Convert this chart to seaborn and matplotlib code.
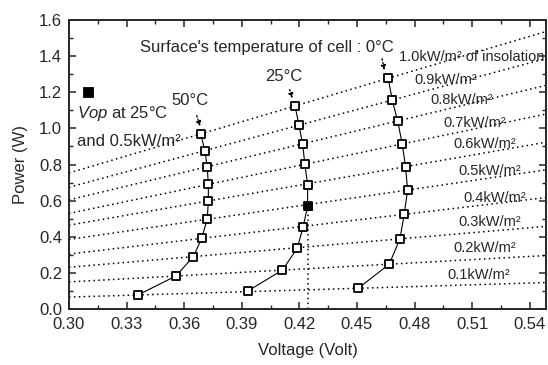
import numpy as np
import pandas as pd
import matplotlib
matplotlib.use('Agg')
import matplotlib.pyplot as plt
import seaborn as sns
from matplotlib.ticker import MultipleLocator, FormatStrFormatter

sns.set_style('ticks')
plt.rcParams['font.family'] = ['Liberation Sans', 'DejaVu Sans']
plt.rcParams['mathtext.fontset'] = 'custom'
plt.rcParams['mathtext.rm'] = 'Liberation Sans'
plt.rcParams['mathtext.it'] = 'Liberation Sans:italic'

# operating points for each cell temperature (bottom = 0.1 kW/m2 ... top = 1.0 kW/m2)
v_50 = [0.336, 0.3557, 0.3648, 0.3691, 0.3720, 0.3726, 0.3726, 0.3720, 0.3708, 0.3686]
p_50 = [0.078, 0.183, 0.290, 0.391, 0.497, 0.598, 0.690, 0.788, 0.877, 0.969]
v_25 = [0.3934, 0.4112, 0.4189, 0.4220, 0.4243, 0.4243, 0.4229, 0.4217, 0.4198, 0.4177]
p_25 = [0.101, 0.216, 0.336, 0.456, 0.570, 0.687, 0.801, 0.912, 1.019, 1.126]
v_0 = [0.4507, 0.4668, 0.4724, 0.4746, 0.4764, 0.4753, 0.4736, 0.4712, 0.4684, 0.4663]
p_0 = [0.115, 0.248, 0.388, 0.524, 0.659, 0.788, 0.914, 1.041, 1.157, 1.277]

# constant insolation lines, power at the two ends of the voltage range
iso_levels = ['0.1', '0.2', '0.3', '0.4', '0.5', '0.6', '0.7', '0.8', '0.9', '1.0']
iso_v = [0.30, 0.55]
iso_p_left = [0.066, 0.150, 0.231, 0.304, 0.385, 0.464, 0.529, 0.604, 0.674, 0.753]
iso_p_right = [0.147, 0.297, 0.459, 0.619, 0.773, 0.926, 1.083, 1.242, 1.391, 1.541]

# Vop at 25 C and 0.5 kW/m2
vop_v = 0.4243
vop_p = 0.570
legend_v = 0.3099
legend_p = 1.20

curves = pd.concat([
    pd.DataFrame({'v': v_50, 'p': p_50, 'temp': '50'}),
    pd.DataFrame({'v': v_25, 'p': p_25, 'temp': '25'}),
    pd.DataFrame({'v': v_0, 'p': p_0, 'temp': '0'}),
], ignore_index=True)

iso_rows = []
for lev, pl, pr in zip(iso_levels, iso_p_left, iso_p_right):
    iso_rows.append({'v': iso_v[0], 'p': pl, 'level': lev})
    iso_rows.append({'v': iso_v[1], 'p': pr, 'level': lev})
iso = pd.DataFrame(iso_rows)

fig = plt.figure(figsize=(5.48, 3.65), dpi=100)
ax = fig.add_axes([0.1259, 0.1534, 0.8705, 0.7918])

sns.lineplot(data=iso, x='v', y='p', units='level', estimator=None, color='k',
             linestyle=(0, (1, 2.2)), linewidth=1.1, ax=ax, legend=False)
sns.lineplot(data=curves, x='v', y='p', units='temp', estimator=None, sort=False,
             color='k', linewidth=0.8, ax=ax, legend=False)
ax.plot([vop_v, vop_v], [0, vop_p], color='k', linestyle=(0, (1, 2.2)), linewidth=1.1)
sns.scatterplot(data=curves, x='v', y='p', marker='s', s=32, facecolor='white',
                edgecolor='k', linewidth=1.3, ax=ax, zorder=5, legend=False)
sns.scatterplot(x=[vop_v], y=[vop_p], marker='s', s=40, color='k', edgecolor='k',
                ax=ax, zorder=6, legend=False)
sns.scatterplot(x=[legend_v], y=[legend_p], marker='s', s=55, color='k', edgecolor='k',
                ax=ax, zorder=6, legend=False)

ax.set_xlim(0.30, 0.5485)
ax.set_ylim(0.0, 1.6)
ax.xaxis.set_major_locator(MultipleLocator(0.03))
ax.xaxis.set_minor_locator(MultipleLocator(0.015))
ax.yaxis.set_major_locator(MultipleLocator(0.2))
ax.yaxis.set_minor_locator(MultipleLocator(0.1))
ax.xaxis.set_major_formatter(FormatStrFormatter('%.2f'))
ax.yaxis.set_major_formatter(FormatStrFormatter('%.1f'))
ax.tick_params(which='both', direction='in', top=True, right=True, labelsize=12)
ax.tick_params(which='major', length=5, width=1.1)
ax.tick_params(which='minor', length=3, width=1.0)
ax.tick_params(axis='x', which='major', pad=6)
ax.tick_params(axis='y', which='major', pad=5)
for sp in ax.spines.values():
    sp.set_linewidth(1.4)
    sp.set_visible(True)

ax.set_xlabel('Voltage (Volt)', fontsize=12, labelpad=8)
ax.set_ylabel('Power (W)', fontsize=12, labelpad=8)

# texts
ax.text(0.337, 1.445, "Surface's temperature of cell : 0°C", fontsize=12, ha='left', va='center')
ax.text(0.4719, 1.395, '1.0kW/m² of insolation', fontsize=10.5, ha='left', va='center')
lab_x = [0.4969, 0.5, 0.5031, 0.5052, 0.5031, 0.5, 0.4948, 0.488, 0.4797]
lab_y = [0.188, 0.338, 0.479, 0.617, 0.764, 0.914, 1.030, 1.157, 1.268]
for lev, lx, ly in zip(iso_levels[:9], lab_x, lab_y):
    ax.text(lx, ly, lev + 'kW/m²', fontsize=10.5, ha='left', va='center')

ax.text(0.412, 1.285, '25°C', fontsize=12, ha='center', va='center')
ax.text(0.363, 1.152, '50°C', fontsize=12, ha='center', va='center')
ax.text(0.3042, 1.085, r'$\mathit{Vop}$ at 25°C', fontsize=12, ha='left', va='center')
ax.text(0.3042, 0.925, 'and 0.5kW/m²', fontsize=12, ha='left', va='center')

arrow = dict(arrowstyle='-|>', linestyle=':', color='k', lw=1.0, mutation_scale=7)
ax.annotate('', xy=(0.4646, 1.307), xytext=(0.4628, 1.40), arrowprops=arrow)
ax.annotate('', xy=(0.4167, 1.152), xytext=(0.4146, 1.229), arrowprops=arrow)
ax.annotate('', xy=(0.3688, 0.997), xytext=(0.3661, 1.085), arrowprops=arrow)

fig.savefig('out.png', dpi=100)
